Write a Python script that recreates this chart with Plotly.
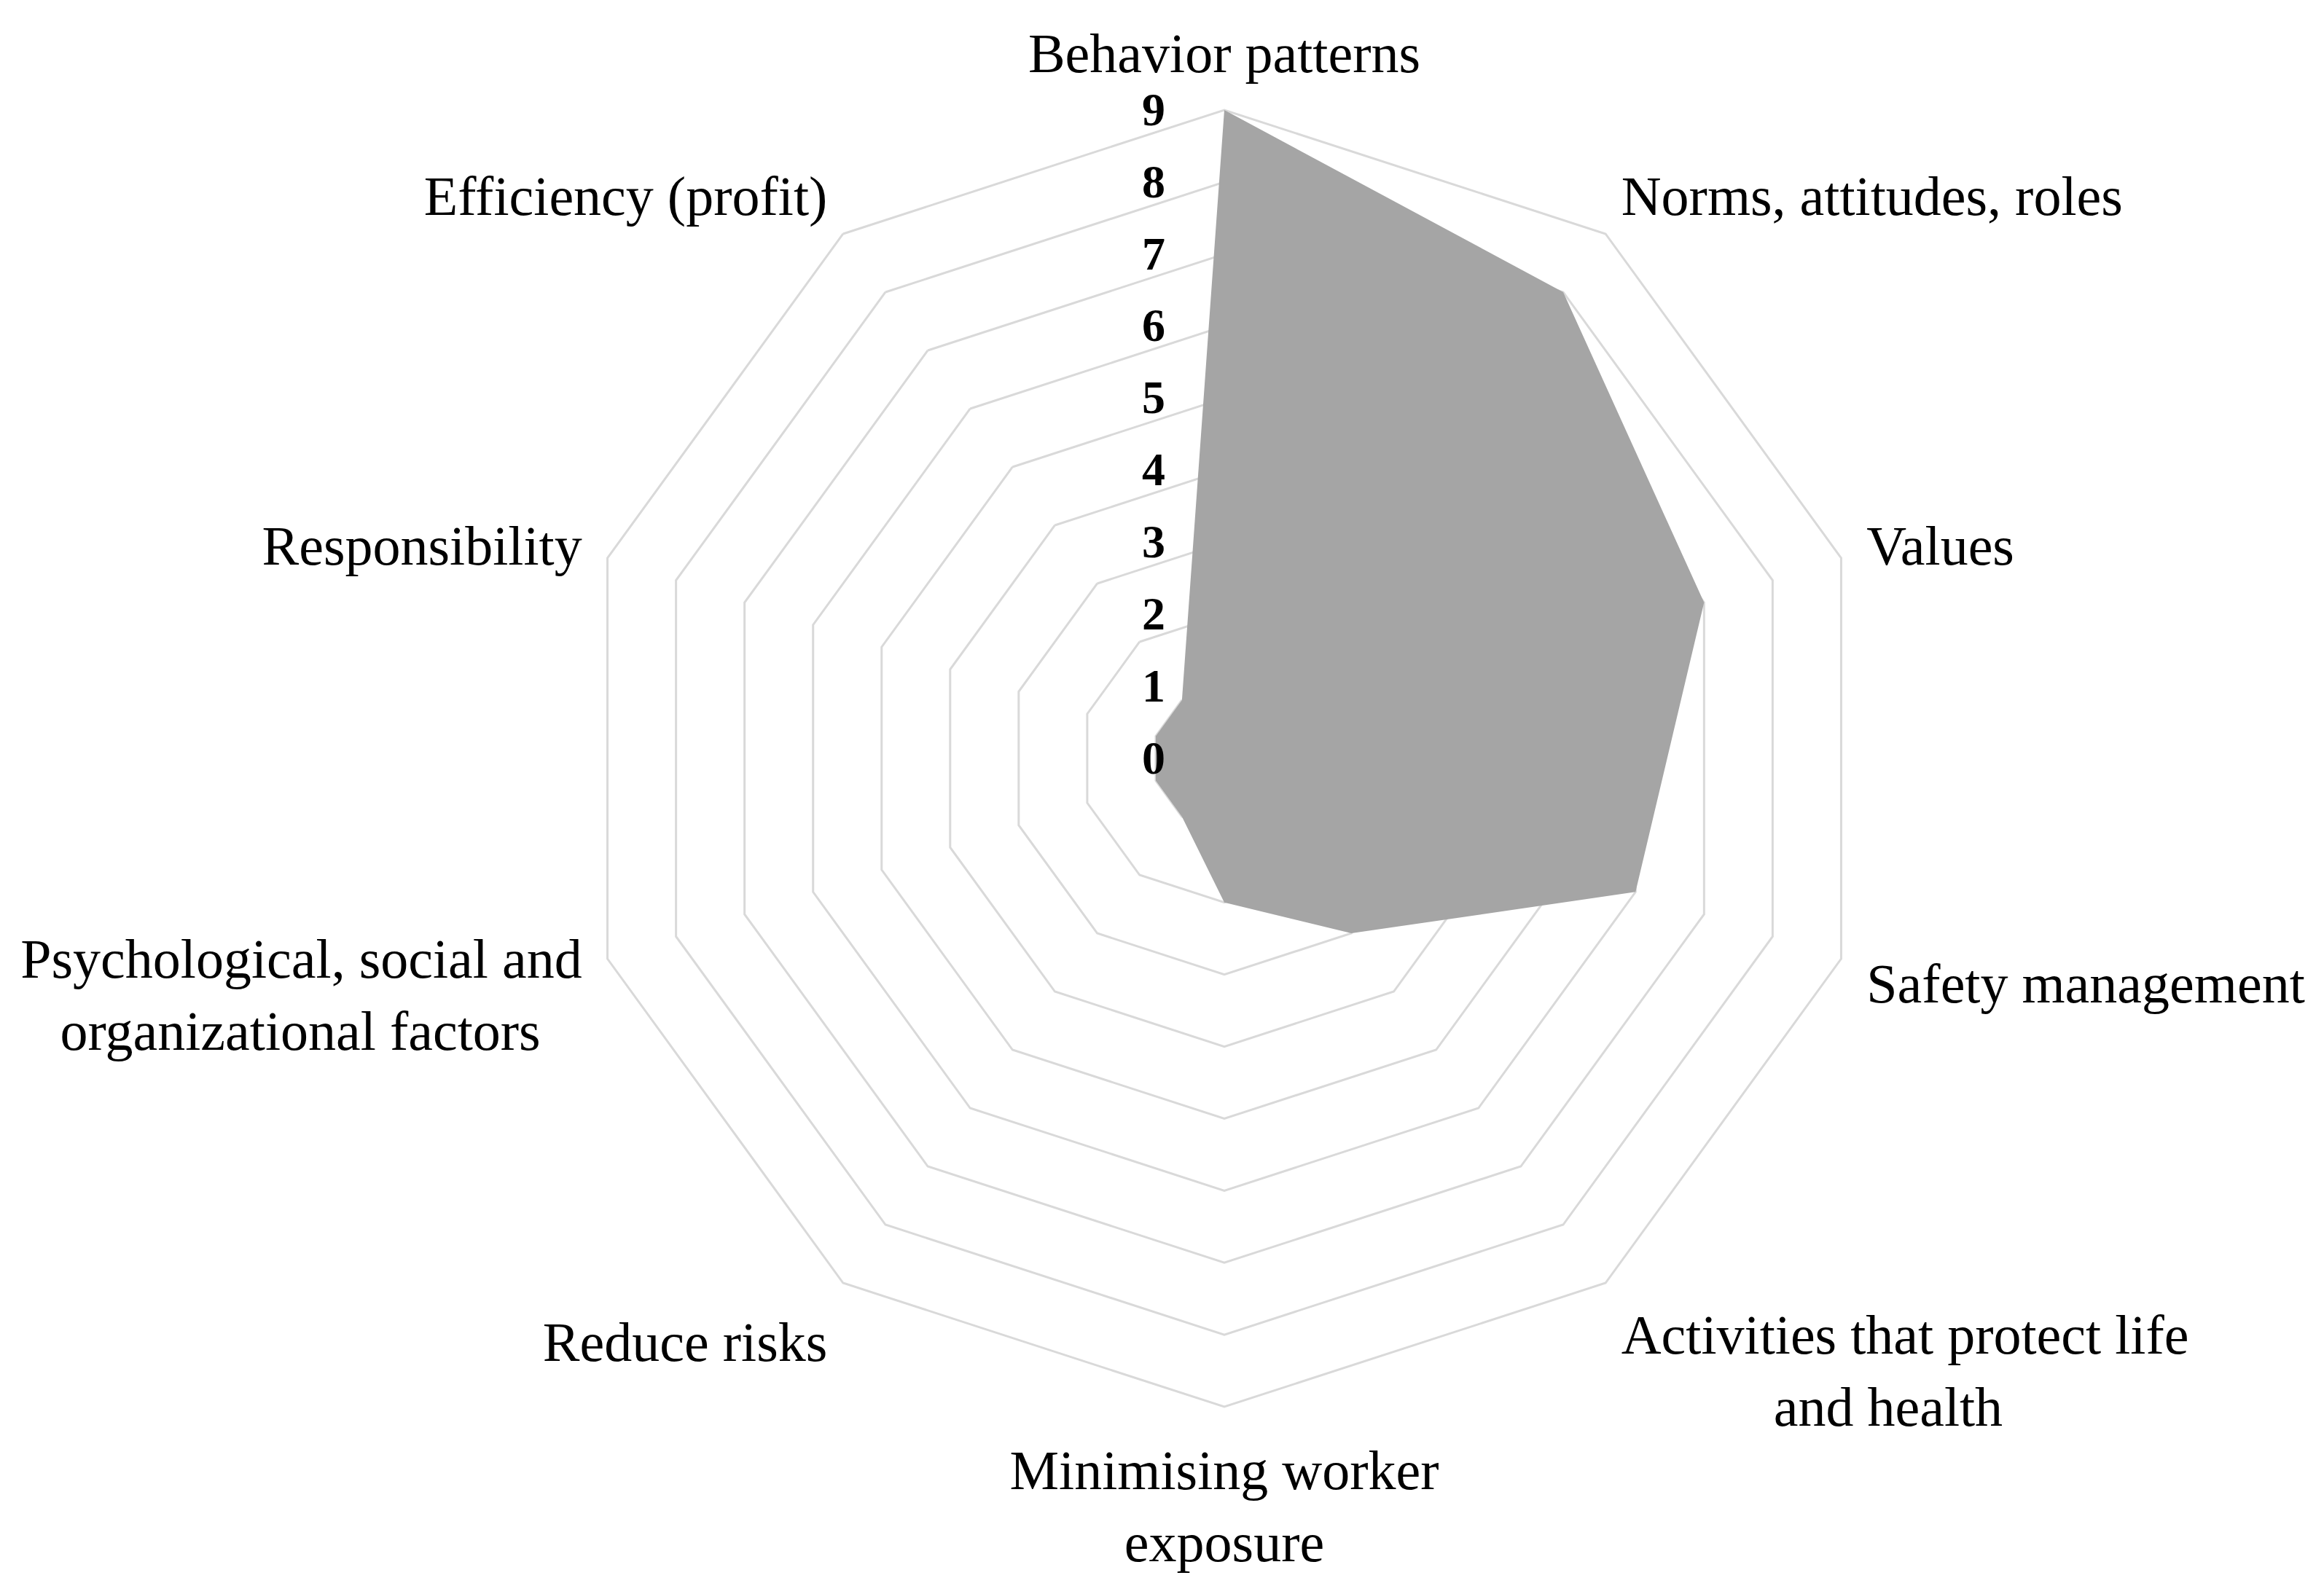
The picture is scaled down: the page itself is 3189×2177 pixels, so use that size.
import plotly.graph_objects as go

NB = "\u00a0"

categories = [
    "Behavior patterns",
    "Norms, attitudes, roles",
    "Values",
    "Safety management",
    "Activities that protect life<br>" + NB * 11 + "and health",
    "Minimising worker<br>exposure",
    "Reduce risks",
    "Psychological, social and<br>organizational factors" + NB * 3,
    "Responsibility",
    "Efficiency (profit)",
]
values = [9, 8, 7, 6, 3, 2, 1, 1, 1, 1]
radial_ticks = list(range(0, 10))

W, H = 3189, 2177
cx, cy, rad = 1672, 1033, 890
dom = dict(x=[(cx - rad) / W, (cx + rad) / W],
           y=[(H - cy - rad) / H, (H - cy + rad) / H])

fig = go.Figure()

fig.add_trace(go.Scatterpolar(
    r=values + values[:1],
    theta=categories + categories[:1],
    mode="lines",
    fill="toself",
    fillcolor="#a5a5a5",
    line=dict(color="#a5a5a5", width=0),
    showlegend=False,
))

# invisible trace so the overlay subplot (tick numbers on top of the fill) is drawn
fig.add_trace(go.Scatterpolar(
    r=[0], theta=[categories[0]], mode="markers",
    marker=dict(opacity=0), hoverinfo="skip", showlegend=False,
    subplot="polar2",
))

fig.update_layout(
    width=W,
    height=H,
    margin=dict(l=0, r=0, t=0, b=0),
    paper_bgcolor="white",
    plot_bgcolor="white",
    font=dict(family="Liberation Serif", color="black"),
    polar=dict(
        domain=dom,
        bgcolor="white",
        gridshape="linear",
        radialaxis=dict(
            range=[0, 9],
            tickvals=radial_ticks,
            angle=90,
            showline=False,
            showticklabels=False,
            ticks="",
            gridcolor="#d9d9d9",
            gridwidth=3,
            layer="below traces",
        ),
        angularaxis=dict(
            direction="clockwise",
            rotation=90,
            showgrid=False,
            linecolor="#d9d9d9",
            linewidth=3,
            ticks="outside",
            ticklen=20,
            tickcolor="rgba(0,0,0,0)",
            tickfont=dict(size=76, family="Liberation Serif"),
            layer="below traces",
        ),
    ),
    polar2=dict(
        domain=dom,
        bgcolor="rgba(0,0,0,0)",
        gridshape="linear",
        radialaxis=dict(
            range=[0, 9],
            tickvals=radial_ticks,
            angle=90,
            tickangle=90,
            side="counterclockwise",
            showline=False,
            showgrid=False,
            ticks="outside",
            ticklen=58,
            tickcolor="rgba(0,0,0,0)",
            tickfont=dict(size=64, family="Liberation Serif", weight="bold"),
        ),
        angularaxis=dict(
            categoryarray=categories,
            direction="clockwise",
            rotation=90,
            showgrid=False,
            showline=False,
            showticklabels=False,
            ticks="",
        ),
    ),
)

fig.write_html("out.html")
